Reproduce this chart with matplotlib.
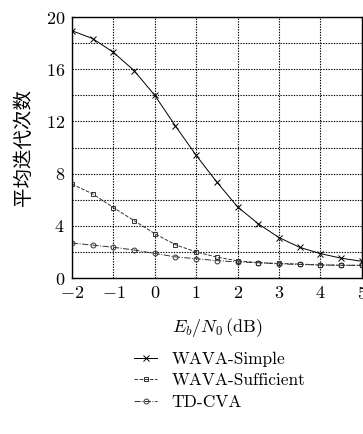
import numpy as np
import matplotlib
matplotlib.use("Agg")
import matplotlib.pyplot as plt

plt.rcParams['font.family'] = ['cmr10', 'DejaVu Serif']
plt.rcParams['mathtext.fontset'] = 'cm'
plt.rcParams['axes.formatter.use_mathtext'] = True

snr = [-2, -1.5, -1, -0.5, 0, 0.5, 1, 1.5, 2, 2.5, 3, 3.5, 4, 4.5, 5]
wava_simple = [18.95, 18.35, 17.3, 15.9, 14.0, 11.65, 9.4, 7.35, 5.45, 4.15, 3.1, 2.35, 1.87, 1.52, 1.28]
wava_sufficient = [7.2, 6.45, 5.4, 4.4, 3.4, 2.55, 2.0, 1.6, 1.32, 1.18, 1.12, 1.07, 1.0, 0.98, 0.97]
td_cva = [2.68, 2.52, 2.36, 2.15, 1.88, 1.62, 1.48, 1.33, 1.23, 1.17, 1.08, 1.04, 1.0, 0.98, 0.97]

xticks = [-2, -1, 0, 1, 2, 3, 4, 5]
yticks = [0, 4, 8, 12, 16, 20]

fig = plt.figure(figsize=(3.63, 4.34), dpi=100)
ax = fig.add_axes([0.198, 0.3594, 0.799, 0.6014])

ax.plot(snr, wava_simple, '-', color='black', lw=0.7, marker='x', ms=4, mew=0.7, label='WAVA-Simple')
ax.plot(snr, wava_sufficient, '--', color='#333333', lw=0.7, marker='s', ms=3.5, mew=0.7,
        mfc='none', label='WAVA-Sufficient')
ax.plot(snr, td_cva, '-.', color='#333333', lw=0.7, marker='o', ms=3.5, mew=0.7,
        mfc='none', label='TD-CVA')

ax.set_xlim(-2, 5)
ax.set_ylim(0, 20)
ax.set_xticks(xticks)
ax.set_xticklabels([f'${v}$' for v in xticks], fontsize=13)
ax.set_yticks(yticks)
ax.set_yticklabels([f'${v}$' for v in yticks], fontsize=13)
ax.set_yticks(np.arange(0, 21, 2), minor=True)
ax.tick_params(which='both', length=0, pad=5)
ax.grid(True, which='both', color='black', linestyle=(0, (1.2, 1.2)), lw=0.8)
for s in ax.spines.values():
    s.set_linewidth(1.0)

ax.set_xlabel(r'$E_b/N_0\,(\mathrm{dB})$', fontsize=13, labelpad=10)
ax.set_ylabel('平均迭代次数', fontsize=14, family=['Noto Sans CJK SC', 'DejaVu Sans'],
              fontweight='light', labelpad=8)

ax.legend(loc='upper left', bbox_to_anchor=(0.19, -0.255), frameon=False,
          handlelength=1.35, handletextpad=0.8, labelspacing=0.35, borderaxespad=0,
          prop={'family': 'cmr10', 'size': 12.5})

fig.savefig('out.png', dpi=100)
